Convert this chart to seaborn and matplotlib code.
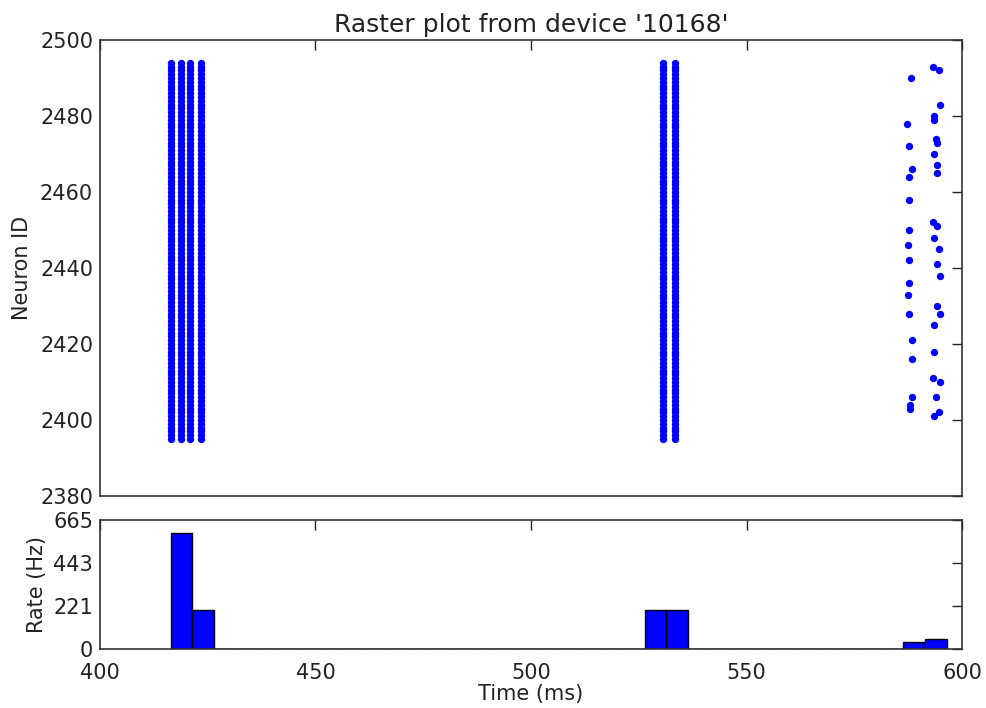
import matplotlib
matplotlib.use("Agg")
import matplotlib.pyplot as plt
import seaborn as sns
import numpy as np
import pandas as pd

# 뉴런 ID (2395 ~ 2494, 100개)
neuron_ids = list(range(2395, 2495))

# 동기 발화 시각 (ms) - 열 단위
burst_times_1 = [416.4, 418.8, 420.8, 423.5]
burst_times_2 = [530.7, 533.4]

# 마지막 구간의 산발적 스파이크
late_left_t = [588.1, 587.3, 587.8, 588.5, 587.8, 587.8, 587.8, 587.5, 587.8,
               587.8, 587.5, 587.8, 588.3, 588.3, 588.3, 587.9, 587.9]
late_left_id = [2490, 2478, 2472, 2466, 2464, 2458, 2450, 2446, 2442,
                2436, 2433, 2428, 2421, 2416, 2406, 2404, 2403]
late_right_t = [593.2, 594.7, 594.9, 593.6, 593.6, 593.9, 594.3, 593.6, 594.1,
                594.1, 593.2, 594.1, 593.6, 594.7, 594.1, 594.9, 594.3, 594.9,
                593.6, 593.6, 593.3, 594.9, 593.9, 594.7, 593.6]
late_right_id = [2493, 2492, 2483, 2480, 2479, 2474, 2473, 2470, 2467,
                 2465, 2452, 2451, 2448, 2445, 2441, 2438, 2430, 2428,
                 2425, 2418, 2411, 2410, 2406, 2402, 2401]

bin_width = 5.0
n_neurons = 100
rate_ticks = [0, 221, 443, 665]

# 스파이크 테이블 구성
times, gids = [], []
for t in burst_times_1 + burst_times_2:
    times += [t] * len(neuron_ids)
    gids += neuron_ids
times += late_left_t + late_right_t
gids += late_left_id + late_right_id
spikes = pd.DataFrame({'time': times, 'gid': gids})
spikes['w'] = 1000.0 / (bin_width * n_neurons)

sns.set_style("white")
plt.rcParams['font.family'] = ['DejaVu Sans']
plt.rcParams['text.color'] = '#222222'
plt.rcParams['axes.labelcolor'] = '#222222'
plt.rcParams['xtick.color'] = '#222222'
plt.rcParams['ytick.color'] = '#222222'

fig = plt.figure(figsize=(9.86, 7.08), dpi=100)
ax1 = fig.add_axes([0.1014, 0.2994, 0.8743, 0.6441])
ax2 = fig.add_axes([0.1014, 0.0833, 0.8743, 0.1822])

# 래스터 플롯
sns.scatterplot(data=spikes, x='time', y='gid', ax=ax1, color='#0000ff',
                s=28, linewidth=0, marker='o', legend=False)
ax1.set_xlim(400, 600)
ax1.set_ylim(2380, 2500)
ax1.set_yticks(range(2380, 2501, 20))
ax1.set_xticks(range(400, 601, 50))
ax1.set_xticklabels([])
ax1.set_xlabel('')
ax1.set_ylabel('Neuron ID', fontsize=15, labelpad=6)
ax1.set_title("Raster plot from device '10168'", fontsize=18, pad=6)

# 발화율 히스토그램
t0 = min(times)
n_bins = int(np.ceil((max(times) - t0) / bin_width))
sns.histplot(data=spikes, x='time', weights='w', binwidth=bin_width,
             binrange=(t0, t0 + n_bins * bin_width), ax=ax2,
             color='#0000ff', edgecolor='black', linewidth=1.0, alpha=1.0)
ax2.set_xlim(400, 600)
ax2.set_ylim(0, 665)
ax2.set_yticks(rate_ticks)
ax2.set_xticks(range(400, 601, 50))
ax2.set_xlabel('Time (ms)', fontsize=15, labelpad=1)
ax2.set_ylabel('Rate (Hz)', fontsize=15, labelpad=4)

for ax in (ax1, ax2):
    for sp in ax.spines.values():
        sp.set_visible(True)
        sp.set_color('#333333')
        sp.set_linewidth(1.2)
    ax.tick_params(direction='in', length=7, width=1, top=True, right=True,
                   labelsize=15, colors='#222222', pad=5)
ax2.tick_params(axis='x', pad=10)

fig.savefig('out.png', dpi=100)
